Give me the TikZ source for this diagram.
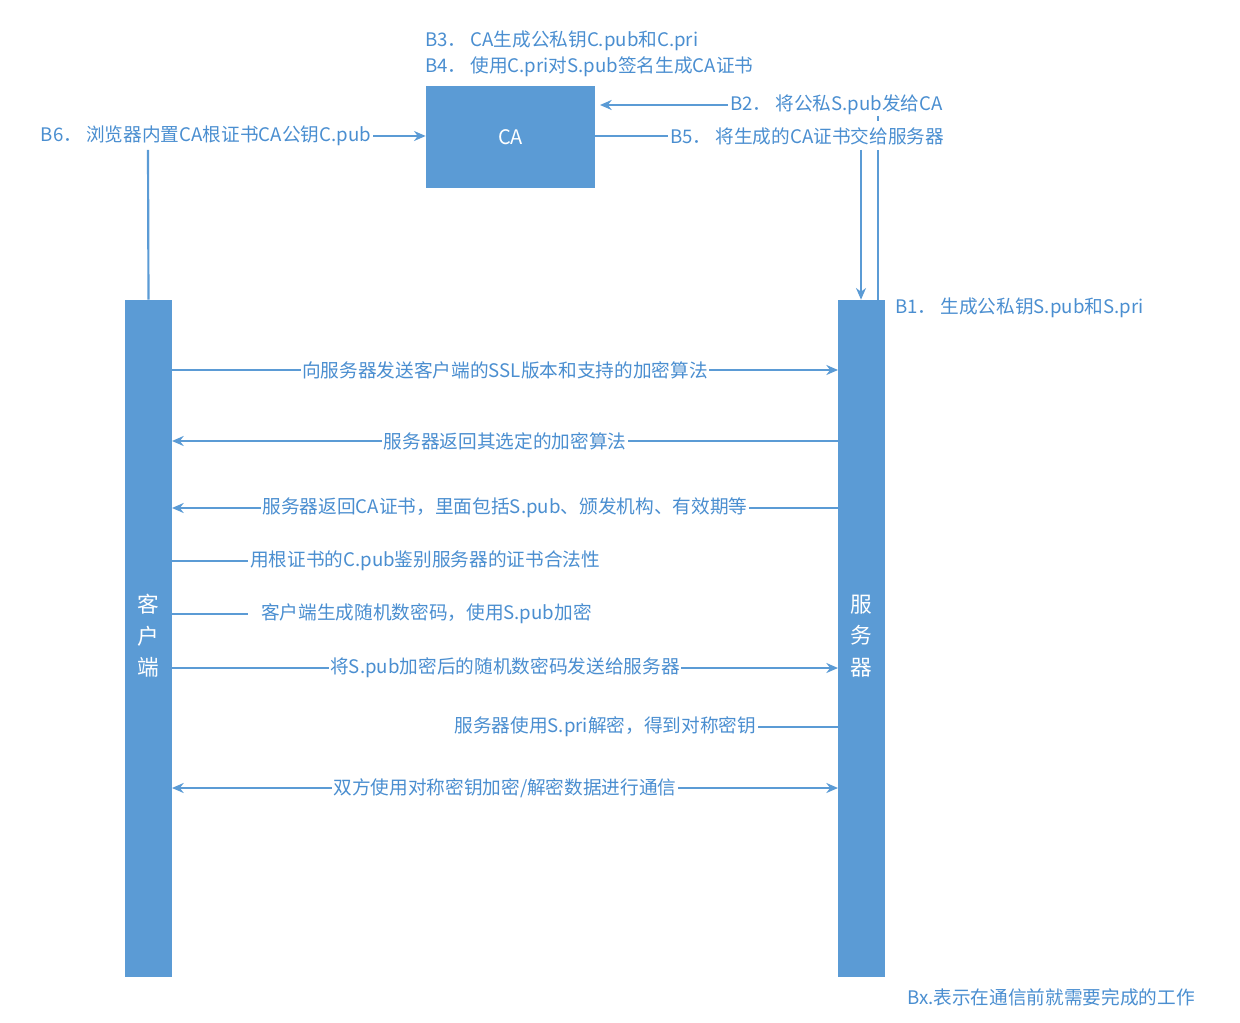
\documentclass[tikz,border=0pt]{standalone}
\usepackage{fontspec}
\setmainfont{Noto Sans CJK SC}
\usetikzlibrary{arrows.meta}
\definecolor{bl}{HTML}{5B9BD5}
\definecolor{tx}{HTML}{4A8ED0}
\begin{document}
\begin{tikzpicture}[x=0.6pt,y=-0.6pt,
  ln/.style={draw=bl,line width=1.3pt},
  ar/.style={ln,-{Stealth[length=7pt,width=6pt]}},
  lab/.style={text=tx,font=\fontsize{11.2pt}{13pt}\selectfont,inner sep=1pt},
  msg/.style={lab,fill=white},
  bar/.style={fill=bl,draw=none}]
\useasboundingbox (0,0) rectangle (1240,1023);
\node[bar,minimum width=101.4pt,minimum height=61.2pt,text=white,font=\fontsize{12pt}{14pt}\selectfont] (ca) at (510.5,137.5) {CA};
\node[bar,minimum width=28.2pt,minimum height=406.2pt] (cl) at (148.5,638.5) {};
\node[bar,minimum width=28.2pt,minimum height=406.2pt] (sv) at (861.5,638.5) {};
\node[text=white,font=\fontsize{13pt}{19pt}\selectfont,align=center] at (148.5,636) {客\\户\\端};
\node[text=white,font=\fontsize{13pt}{19pt}\selectfont,align=center] at (861.5,636) {服\\务\\器};
\node[lab,anchor=west] (b3) at (423,41) {B3． CA生成公私钥C.pub和C.pri};
\node[lab,anchor=west] (b4) at (423,67) {B4． 使用C.pri对S.pub签名生成CA证书};
\node[lab,anchor=west] (b2) at (728,105) {B2． 将公私S.pub发给CA};
\node[lab,anchor=west] (b5) at (668,136) {B5． 将生成的CA证书交给服务器};
\node[lab,anchor=west] (b1) at (893,308) {B1． 生成公私钥S.pub和S.pri};
\node[lab,anchor=east] (b6) at (373,136) {B6． 浏览器内置CA根证书CA公钥C.pub};
\node[lab,anchor=west] (bx) at (905,997) {Bx.表示在通信前就需要完成的工作};
\coordinate (b2e) at (600,105);
\draw[ar] (b2.west) -- (b2e);
\draw[ln] (ca.east |- b5.west) -- (b5.west);
\draw[ar] (861,150) -- (sv.north -| 861,0);
\draw[ln] (878,300) -- (878,150);
\draw[ln] (878,116) -- (878,121);
\draw[ar] (b6.east) -- (ca.west |- b6.east);
\draw[ln] (148,150) -- (cl.north);
\foreach \y/\d/\t in {370/->/{向服务器发送客户端的SSL版本和支持的加密算法},
  441/<-/{服务器返回其选定的加密算法},
  508/<-/{服务器返回CA证书，里面包括S.pub、颁发机构、有效期等},
  668/->/{将S.pub加密后的随机数密码发送给服务器},
  788/<->/{双方使用对称密钥加密/解密数据进行通信}}{
  \draw[ln,\d,>={Stealth[length=7pt,width=6pt]}] (172,\y) -- (838,\y);
  \node[msg] at (505,\y) {\t};
}
\node[msg,anchor=west] (m4) at (248,561) {用根证书的C.pub鉴别服务器的证书合法性};
\draw[ln] (172,561) -- (m4.west);
\node[lab,anchor=west] (m5) at (259,614) {客户端生成随机数密码，使用S.pub加密};
\draw[ln] (172,614) -- (248,614);
\node[lab,anchor=east] (m7) at (758,727) {服务器使用S.pri解密，得到对称密钥};
\draw[ln] (m7.east) -- (838,727);
\end{tikzpicture}
\end{document}
